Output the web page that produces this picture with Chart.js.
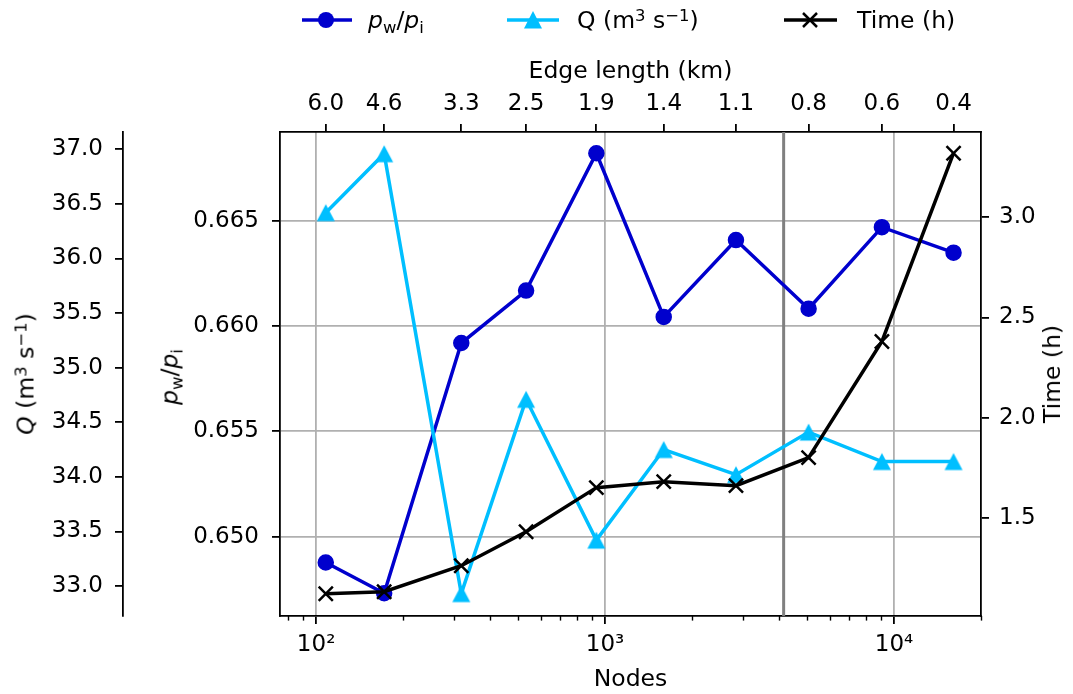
<!DOCTYPE html>
<html><head><meta charset="utf-8">
<script src="https://cdn.jsdelivr.net/npm/chart.js@4.4.1/dist/chart.umd.min.js"></script>
<style>
html,body{margin:0;padding:0;background:#fff;}
#wrap{position:relative;width:1073px;height:694px;font-family:'DejaVu Sans',sans-serif;font-size:23.5px;color:#000;overflow:hidden;}
canvas{position:absolute;left:0;top:0;}
.t{position:absolute;white-space:nowrap;line-height:24px;}
.rot{transform:translate(-50%,-50%) rotate(-90deg);}
.sb{font-size:70%;position:relative;top:0.3em;}
.sp{font-size:70%;position:relative;top:-0.45em;}
svg{position:absolute;left:0;top:0;}
</style></head>
<body><div id="wrap">
<canvas id="c" width="1073" height="694"></canvas>
<svg width="1073" height="40">
  <line x1="302" y1="20" x2="352" y2="20" stroke="#0000CD" stroke-width="3.5"/>
  <circle cx="326" cy="20" r="8" fill="#0000CD"/>
  <line x1="507" y1="20" x2="559" y2="20" stroke="#00BFFF" stroke-width="3.5"/>
  <polygon points="533,11 524,28.5 542,28.5" fill="#00BFFF"/>
  <line x1="784" y1="20" x2="837" y2="20" stroke="#000" stroke-width="3.5"/>
  <line x1="803" y1="13" x2="817" y2="27" stroke="#000" stroke-width="2.5"/>
  <line x1="803" y1="27" x2="817" y2="13" stroke="#000" stroke-width="2.5"/>
</svg>
<div class="t" style="left:368px;top:8px"><i>p</i><span class="sb">w</span>/<i>p</i><span class="sb">i</span></div>
<div class="t" style="left:577px;top:8px">Q (m<span class="sp">3</span> s<span class="sp">−1</span>)</div>
<div class="t" style="left:857px;top:8px">Time (h)</div>
<div class="t rot" style="left:27px;top:374px"><i>Q</i> (m<span class="sp">3</span> s<span class="sp">−1</span>)</div>
<div class="t rot" style="left:171px;top:377px"><i>p</i><span class="sb">w</span>/<i>p</i><span class="sb">i</span></div>
<div class="t rot" style="left:1052px;top:374px">Time (h)</div>
</div>
<script>
// ---- data ----
const nodes = [108, 172, 318, 533, 933, 1596, 2838, 5063, 9080, 16070];
const edgeLengthLabels = ['6.0', '4.6', '3.3', '2.5', '1.9', '1.4', '1.1', '0.8', '0.6', '0.4'];
const pressureRatio = [0.64877, 0.64731, 0.65919, 0.66168, 0.66820, 0.66043, 0.66408, 0.66082, 0.66469, 0.66348];
const discharge = [36.42, 36.96, 32.93, 34.71, 33.42, 34.25, 34.02, 34.41, 34.14, 34.14];
const runtimeHours = [1.12, 1.13, 1.26, 1.43, 1.65, 1.68, 1.66, 1.80, 2.38, 3.32];
const nodeMajorTicks = [100, 1000, 10000];
const pTicks = [0.650, 0.655, 0.660, 0.665];
const qTicks = [33.0, 33.5, 34.0, 34.5, 35.0, 35.5, 36.0, 36.5, 37.0];
const timeTicks = [1.5, 2.0, 2.5, 3.0];
const dividerNodes = 4150;
const xRange = [75, 20000];
const pRange = [0.64623, 0.66921];
const qRange = [32.725, 37.159];
const timeRange = [1.009, 3.426];

Chart.defaults.font.family = "'DejaVu Sans', sans-serif";
Chart.defaults.font.size = 23;
Chart.defaults.color = '#000';

const sup = {1: '¹', 2: '²', 3: '³', 4: '⁴', 5: '⁵'};
const toPts = ys => nodes.map((n, i) => ({x: n, y: ys[i]}));

// matplotlib-like '^' marker
const tri = document.createElement('canvas');
tri.width = 20; tri.height = 20;
(() => { const g = tri.getContext('2d'); g.fillStyle = '#00BFFF'; g.beginPath(); g.moveTo(10, 1.5); g.lineTo(1, 18.5); g.lineTo(19, 18.5); g.closePath(); g.fill(); })();

const gridStyle = {color: '#b0b0b0', lineWidth: 1.8, tickColor: '#000', tickLength: 8, tickWidth: 1.8};
const border = {color: '#000', width: 1.8};
const titleFont = {size: 23.5};

const extras = {
  id: 'extras',
  beforeDatasetsDraw(chart) {
    const {ctx, chartArea: a, scales} = chart;
    const px = scales.x.getPixelForValue(dividerNodes);
    ctx.save();
    ctx.strokeStyle = '#808080'; ctx.lineWidth = 3;
    ctx.beginPath(); ctx.moveTo(px, a.top); ctx.lineTo(px, a.bottom); ctx.stroke();
    ctx.restore();
  },
  afterDraw(chart) {
    const {ctx, chartArea: a, scales} = chart;
    const x = scales.x;
    ctx.save();
    ctx.strokeStyle = '#000'; ctx.lineWidth = 1.4;
    for (let d = 1; d <= 4; d++) {
      for (let k = 2; k <= 9; k++) {
        const v = k * Math.pow(10, d);
        if (v < x.min || v > x.max) continue;
        const px = Math.round(x.getPixelForValue(v)) + 0.5;
        ctx.beginPath(); ctx.moveTo(px, a.bottom); ctx.lineTo(px, a.bottom + 4.6); ctx.stroke();
      }
    }
    ctx.restore();
  }
};

new Chart(document.getElementById('c'), {
  type: 'line',
  data: {
    datasets: [
      {label: 'Time (h)', data: toPts(runtimeHours), yAxisID: 'yT', xAxisID: 'x', order: 1,
       borderColor: '#000', backgroundColor: '#000', borderWidth: 3.5,
       pointStyle: 'crossRot', pointRadius: 10, pointBorderWidth: 2.5},
      {label: 'Q', data: toPts(discharge), yAxisID: 'yQ', xAxisID: 'x', order: 2,
       borderColor: '#00BFFF', backgroundColor: '#00BFFF', borderWidth: 3.5,
       pointStyle: tri, pointRadius: 9},
      {label: 'pw/pi', data: toPts(pressureRatio), yAxisID: 'yP', xAxisID: 'x', order: 3,
       borderColor: '#0000CD', backgroundColor: '#0000CD', borderWidth: 3.5,
       pointStyle: 'circle', pointRadius: 7.5, pointBorderWidth: 1.5}
    ]
  },
  options: {
    responsive: false, animation: false, devicePixelRatio: 1,
    layout: {padding: 0},
    plugins: {legend: {display: false}, tooltip: {enabled: false}},
    scales: {
      x: {
        type: 'logarithmic', position: 'bottom', min: xRange[0], max: xRange[1],
        afterBuildTicks: s => { s.ticks = nodeMajorTicks.map(v => ({value: v})); },
        ticks: {callback: v => '10' + sup[Math.round(Math.log10(v))], padding: 7, maxRotation: 0, autoSkip: false},
        grid: gridStyle, border,
        title: {display: true, text: 'Nodes', font: titleFont, padding: {top: 0, bottom: 0}},
        afterFit: s => { s.height = 78; }
      },
      x2: {
        type: 'logarithmic', position: 'top', min: xRange[0], max: xRange[1],
        afterBuildTicks: s => { s.ticks = nodes.map(v => ({value: v})); },
        ticks: {callback: (v, i) => edgeLengthLabels[i], padding: 6, maxRotation: 0, autoSkip: false},
        grid: {...gridStyle, drawOnChartArea: false}, border,
        title: {display: true, text: 'Edge length (km)', font: titleFont, padding: {top: 58, bottom: 0}},
        afterFit: s => { s.height = 132; }
      },
      yP: {
        type: 'linear', position: 'left', weight: 0, min: pRange[0], max: pRange[1],
        afterBuildTicks: s => { s.ticks = pTicks.map(v => ({value: v})); },
        ticks: {callback: v => v.toFixed(3), padding: 13},
        grid: gridStyle, border,
        afterFit: s => { s.width = 157; }
      },
      yQ: {
        type: 'linear', position: 'left', weight: 1, min: qRange[0], max: qRange[1],
        afterBuildTicks: s => { s.ticks = qTicks.map(v => ({value: v})); },
        ticks: {callback: v => v.toFixed(1), padding: 12},
        grid: {...gridStyle, drawOnChartArea: false}, border,
        afterFit: s => { s.width = 123; }
      },
      yT: {
        type: 'linear', position: 'right', min: timeRange[0], max: timeRange[1],
        afterBuildTicks: s => { s.ticks = timeTicks.map(v => ({value: v})); },
        ticks: {callback: v => v.toFixed(1), padding: 10},
        grid: {...gridStyle, drawOnChartArea: false}, border,
        afterFit: s => { s.width = 92; }
      }
    }
  },
  plugins: [extras]
});
</script>
</body></html>
